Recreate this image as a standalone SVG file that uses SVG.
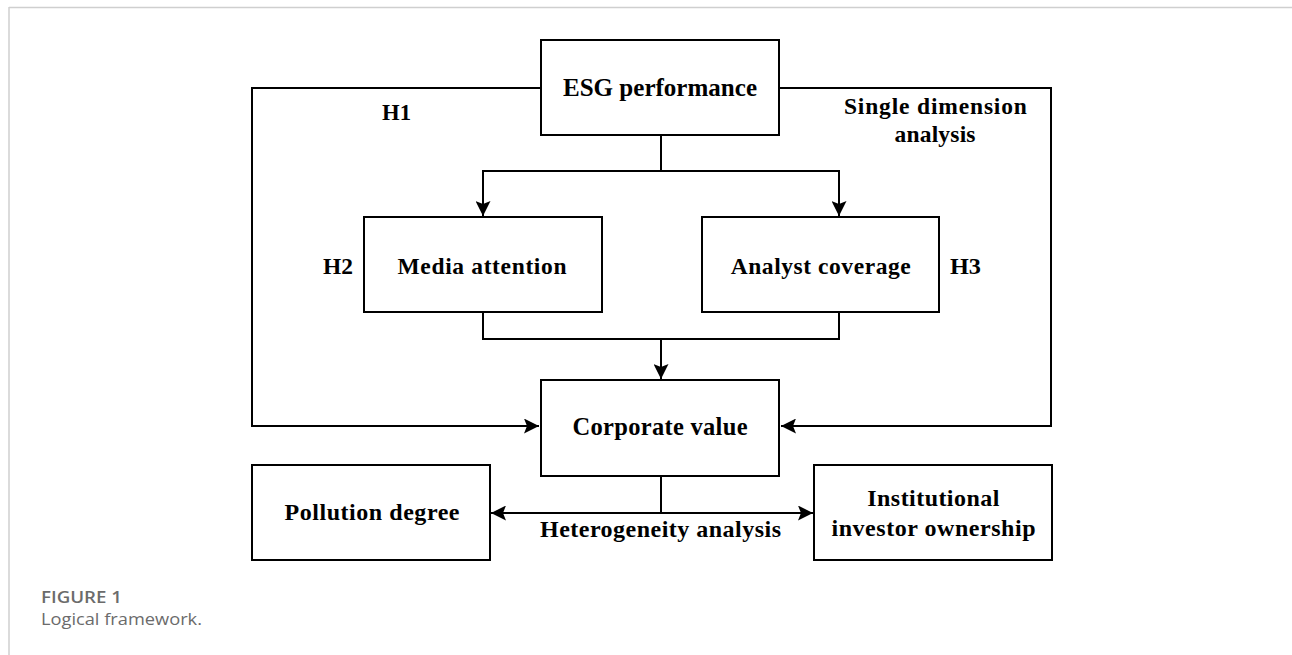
<svg xmlns="http://www.w3.org/2000/svg" width="1292" height="655" viewBox="0 0 1292 655">
<style>
.box{fill:#fff;stroke:#000;stroke-width:2}
.ln{fill:none;stroke:#000;stroke-width:2}
.t{font-family:"Liberation Serif","Times New Roman",serif;font-weight:bold;fill:#000;text-anchor:middle}
.lbl{font-family:"Liberation Serif","Times New Roman",serif;font-weight:bold;fill:#000}
.cap{font-family:"Open Sans","Liberation Sans",sans-serif;fill:#6b6b6b}
</style>
<defs>
<marker id="ah" viewBox="0 0 15 15" refX="15" refY="7.5" markerWidth="15" markerHeight="15" markerUnits="userSpaceOnUse" orient="auto-start-reverse">
<path d="M0,0 L15,7.5 L0,15 L3,7.5 z" fill="#000"/>
</marker>
</defs>
<g id="frame">
<line x1="9" y1="7.5" x2="1292" y2="7.5" stroke="#cfcfcf" stroke-width="1.5"/>
<line x1="9" y1="7" x2="9" y2="655" stroke="#cfcfcf" stroke-width="1.5"/>
</g>
<g id="connectors">
<polyline class="ln" points="541,88 252,88 252,426 539,426" marker-end="url(#ah)"/>
<polyline class="ln" points="779,88 1051,88 1051,426 781,426" marker-end="url(#ah)"/>
<line class="ln" x1="661" y1="135" x2="661" y2="171"/>
<line class="ln" x1="482" y1="171" x2="840" y2="171"/>
<line class="ln" x1="483" y1="171" x2="483" y2="216" marker-end="url(#ah)"/>
<line class="ln" x1="839" y1="171" x2="839" y2="216" marker-end="url(#ah)"/>
<line class="ln" x1="483" y1="312" x2="483" y2="339"/>
<line class="ln" x1="839" y1="312" x2="839" y2="339"/>
<line class="ln" x1="482" y1="339" x2="840" y2="339"/>
<line class="ln" x1="661" y1="339" x2="661" y2="379" marker-end="url(#ah)"/>
<line class="ln" x1="661" y1="476" x2="661" y2="513"/>
<line class="ln" x1="491" y1="513" x2="813" y2="513" marker-start="url(#ah)" marker-end="url(#ah)"/>
</g>
<g id="esg">
<rect class="box" x="541" y="40" width="238" height="95"/>
<text class="t" x="660" y="96" font-size="25.5" textLength="194" lengthAdjust="spacingAndGlyphs">ESG performance</text>
</g>
<g id="media">
<rect class="box" x="364" y="217" width="238" height="95"/>
<text class="t" x="482" y="274" font-size="23.5" textLength="169" lengthAdjust="spacing">Media attention</text>
</g>
<g id="analyst">
<rect class="box" x="702" y="217" width="237" height="95"/>
<text class="t" x="820.7" y="274" font-size="23.5" textLength="180" lengthAdjust="spacing">Analyst coverage</text>
</g>
<g id="corporate">
<rect class="box" x="541" y="380" width="238" height="96"/>
<text class="t" x="660" y="435" font-size="24.5" textLength="175" lengthAdjust="spacing">Corporate value</text>
</g>
<g id="pollution">
<rect class="box" x="252" y="465" width="238" height="95"/>
<text class="t" x="372" y="520" font-size="24" textLength="175" lengthAdjust="spacing">Pollution degree</text>
</g>
<g id="institutional">
<rect class="box" x="814" y="465" width="238" height="95"/>
<text class="t" x="933.3" y="506" font-size="24" textLength="132" lengthAdjust="spacing">Institutional</text>
<text class="t" x="933.5" y="536" font-size="24" textLength="204" lengthAdjust="spacing">investor ownership</text>
</g>
<g id="labels">
<text class="lbl" x="382" y="120" font-size="22.5" textLength="29" lengthAdjust="spacingAndGlyphs">H1</text>
<text class="lbl" x="323" y="274" font-size="22.5" textLength="30" lengthAdjust="spacingAndGlyphs">H2</text>
<text class="lbl" x="950" y="274" font-size="22.5" textLength="31" lengthAdjust="spacingAndGlyphs">H3</text>
<text class="t" x="935.4" y="114" font-size="23.5" textLength="183" lengthAdjust="spacing">Single dimension</text>
<text class="t" x="935" y="142" font-size="23.5" textLength="81" lengthAdjust="spacing">analysis</text>
<text class="t" x="660.5" y="537" font-size="24" textLength="241" lengthAdjust="spacing">Heterogeneity analysis</text>
</g>
<g id="caption">
<text class="cap" x="41" y="603" font-size="16" font-weight="600" textLength="81" lengthAdjust="spacingAndGlyphs">FIGURE 1</text>
<text class="cap" x="41" y="625" font-size="16.5" textLength="161" lengthAdjust="spacingAndGlyphs">Logical framework.</text>
</g>
</svg>
